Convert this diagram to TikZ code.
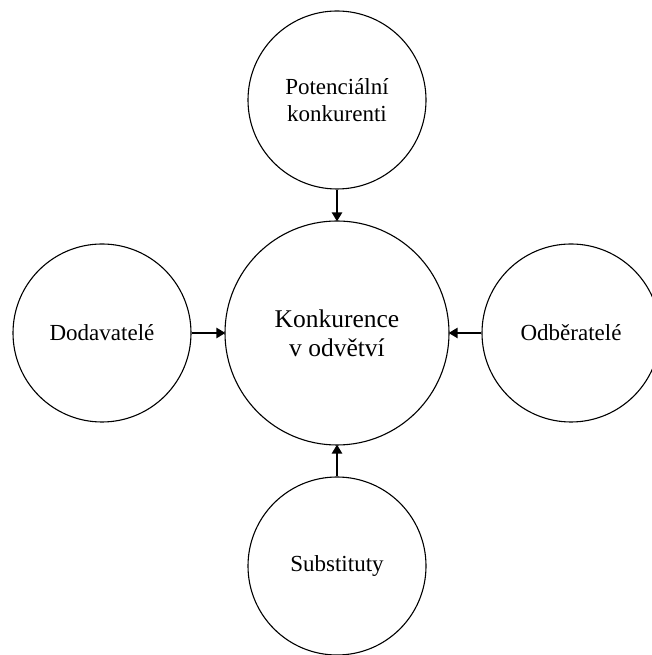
\documentclass[tikz,border=0pt]{standalone}
\usepackage{fontspec}
\setmainfont{Liberation Serif}
\usetikzlibrary{arrows.meta}
\tikzstyle{force}=[circle, draw, line width=1.1pt, inner sep=0pt, minimum size=178pt, align=center, font=\fontsize{23}{26.5}\selectfont]
\tikzstyle{core}=[force, minimum size=224pt, font=\fontsize{25.5}{29}\selectfont]
\tikzstyle{push}=[line width=2.6pt, -{Triangle[length=9pt,width=10pt]}, shorten >=-1pt]

\begin{document}
\begin{tikzpicture}[x=1pt, y=1pt]
	\useasboundingbox (0,0) rectangle (651,655);

	\node[core] (rivalry) at (337, 322) {Konkurence\\v odvětví};
	\node[force] (entrants) at (337, 555) {Potenciální\\konkurenti};
	\node[force] (suppliers) at (102, 322) {Dodavatelé};
	\node[force] (buyers) at (571, 322) {Odběratelé};
	\node[force] (substitutes) at (337, 89) {Substituty};

	% Arrows
	\draw[push] (entrants)--(rivalry);
	\draw[push] (suppliers)--(rivalry);
	\draw[push] (buyers)--(rivalry);
	\draw[push] (substitutes)--(rivalry);
\end{tikzpicture}
\end{document}
